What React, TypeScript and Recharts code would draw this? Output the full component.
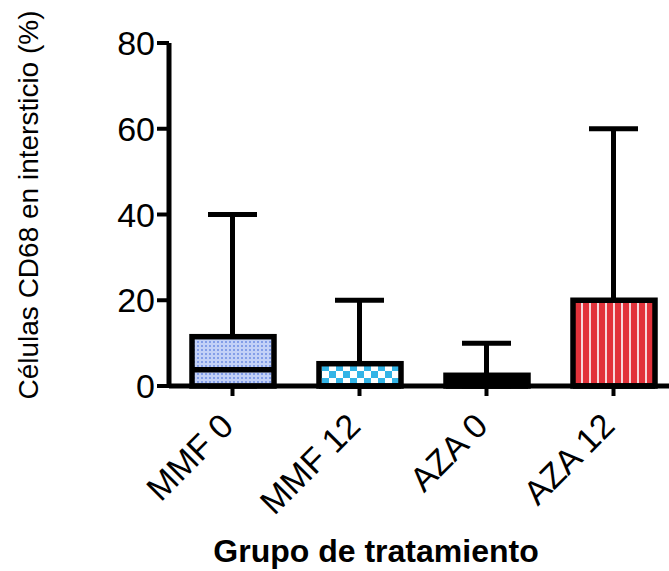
import { ComposedChart, Bar, XAxis, YAxis } from "recharts";

const FONT = "'Liberation Sans', Arial, sans-serif";

// box plot values per group
const groups = ["MMF 0", "MMF 12", "AZA 0", "AZA 12"];
const minValues = [0, 0, 0, 0];
const q1Values = [0, 0, 0, 0];
const medianValues = [3.8, 0, 0, 0];
const q3Values = [11.5, 5.2, 2.5, 20];
const maxValues = [40, 20, 10, 60];
const boxFills = ["url(#dots)", "url(#checks)", "#000000", "url(#stripes)"];
const yTicks = [0, 20, 40, 60, 80];

const data = groups.map((name, i) => ({
  name,
  whisker: [minValues[i], maxValues[i]],
  box: [q1Values[i], q3Values[i]],
  q1: q1Values[i],
  median: medianValues[i],
  q3: q3Values[i],
  boxFill: boxFills[i],
}));

function WhiskerShape(props: any) {
  const { x, y, width, height } = props;
  const cx = x + width / 2;
  return (
    <g stroke="#000" strokeWidth={5}>
      <line x1={cx} x2={cx} y1={y} y2={y + height} />
      <line x1={x} x2={x + width} y1={y} y2={y} />
      <line x1={x} x2={x + width} y1={y + height} y2={y + height} />
    </g>
  );
}

function BoxShape(props: any) {
  const { x, y, width, height } = props;
  const d = props.payload ?? props;
  const span = d.q3 - d.q1;
  const my = span > 0 ? y + (height * (d.q3 - d.median)) / span : y + height;
  return (
    <g>
      <rect x={x} y={y} width={width} height={height} fill={d.boxFill} stroke="#000" strokeWidth={5.5} />
      <line x1={x} x2={x + width} y1={my} y2={my} stroke="#000" strokeWidth={5.5} />
    </g>
  );
}

function GroupTick(props: any) {
  const { x, y, payload } = props;
  const ax = x + 3;
  const ay = y + 30;
  return (
    <text
      x={ax}
      y={ay}
      transform={`rotate(-45, ${ax}, ${ay})`}
      textAnchor="end"
      fontSize={34}
      fontFamily={FONT}
      fill="#000"
    >
      {payload.value}
    </text>
  );
}

function YTitle() {
  return (
    <text
      x={38}
      y={205}
      transform="rotate(-90, 38, 205)"
      textAnchor="middle"
      fontSize={28}
      fontFamily={FONT}
      fill="#000"
    >
      Células CD68 en intersticio (%)
    </text>
  );
}

function XTitle() {
  return (
    <text x={376} y={562} textAnchor="middle" fontSize={32} fontWeight="bold" fontFamily={FONT} fill="#000">
      Grupo de tratamiento
    </text>
  );
}

export default function App() {
  return (
    <div style={{ position: "absolute", left: 0, top: 0, width: 669, height: 571, overflow: "hidden", background: "#fff" }}>
      <ComposedChart
        width={680}
        height={571}
        data={data}
        margin={{ top: 43, right: 3, left: 0, bottom: 0 }}
        style={{ fontFamily: FONT }}
      >
        <defs>
          <pattern id="dots" width="4" height="4" patternUnits="userSpaceOnUse">
            <rect width="4" height="4" fill="#c3d1f7" />
            <circle cx="2" cy="2" r="1" fill="#6d8de3" />
          </pattern>
          <pattern id="checks" width="14" height="14" patternUnits="userSpaceOnUse">
            <rect width="14" height="14" fill="#ffffff" />
            <rect width="7" height="7" fill="#33b4e6" />
            <rect x="7" y="7" width="7" height="7" fill="#33b4e6" />
          </pattern>
          <pattern id="stripes" width="8" height="8" patternUnits="userSpaceOnUse">
            <rect width="8" height="8" fill="#e2333b" />
            <rect x="5" width="2" height="8" fill="#f7d9dc" />
          </pattern>
        </defs>
        <XAxis
          xAxisId="box"
          dataKey="name"
          height={185}
          axisLine={{ stroke: "#000", strokeWidth: 5 }}
          tickLine={{ stroke: "#000", strokeWidth: 4 }}
          tickSize={10}
          tick={<GroupTick />}
          interval={0}
          label={<XTitle />}
        />
        <XAxis xAxisId="whisker" dataKey="name" hide />
        <YAxis
          domain={[0, 80]}
          ticks={yTicks}
          width={169}
          axisLine={{ stroke: "#000", strokeWidth: 5 }}
          tickLine={{ stroke: "#000", strokeWidth: 4 }}
          tickSize={12}
          tick={{ fill: "#000", fontSize: 34, fontFamily: FONT }}
          label={<YTitle />}
        />
        <Bar xAxisId="whisker" dataKey="whisker" barSize={49} shape={<WhiskerShape />} isAnimationActive={false} />
        <Bar xAxisId="box" dataKey="box" barSize={82} shape={<BoxShape />} isAnimationActive={false} />
      </ComposedChart>
    </div>
  );
}
